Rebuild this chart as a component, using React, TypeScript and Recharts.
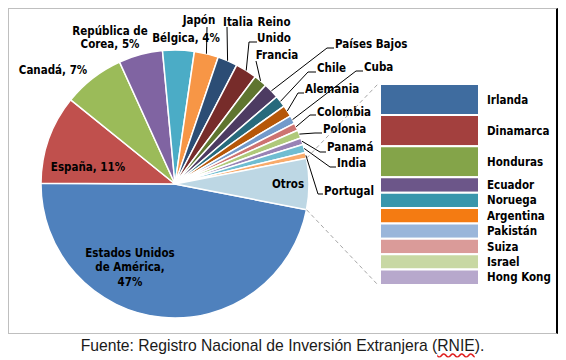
import { Bar, BarChart, Cell, Pie, PieChart, XAxis, YAxis } from 'recharts';

// share of foreign investment by country, %
const pieCountries = [
  'Estados Unidos de América',
  'España',
  'Canadá',
  'República de Corea',
  'Bélgica',
  'Japón',
  'Italia',
  'Reino Unido',
  'Francia',
  'Países Bajos',
  'Chile',
  'Alemania',
  'Cuba',
  'Colombia',
  'Polonia',
  'Panamá',
  'India',
  'Portugal',
];
const pieShares = [47.0, 10.7, 7.4, 5.3, 3.8, 2.9, 2.4, 2.6, 1.6, 1.9, 1.4, 1.4, 1.0, 0.9, 1.0, 0.8, 1.0, 0.7];
const pieColors = [
  '#4F81BD', '#C0504D', '#9BBB59', '#8064A2', '#4BACC6', '#F79646',
  '#2C4D75', '#772C2A', '#5F7530', '#4D3B62', '#276A7C', '#B65708',
  '#729ACA', '#CD7371', '#AFC97A', '#9983B5', '#6FBDD1', '#F9AB6B',
];

const otherLabel = 'Otros';
const otherColor = '#BDD7E4';
const otherCountries = ['Irlanda', 'Dinamarca', 'Honduras', 'Ecuador', 'Noruega', 'Argentina', 'Pakistán', 'Suiza', 'Israel', 'Hong Kong'];
const otherShares = [0.95, 0.95, 0.95, 0.47, 0.47, 0.47, 0.47, 0.47, 0.47, 0.47];
const otherColors = ['#3F6C9F', '#A3403E', '#84A449', '#6C5689', '#3996AC', '#F47B12', '#9AB6DA', '#DA9B99', '#C8D8A3', '#B7A8CC'];

const sourceText = 'Fuente: Registro Nacional de Inversión Extranjera (';
const sourceAbbr = 'RNIE';

const otherTotal = otherShares.reduce((a, b) => a + b, 0);
const grandTotal = pieShares.reduce((a, b) => a + b, 0) + otherTotal;

const pieData = [
  ...pieCountries.map((name, i) => ({ name, value: pieShares[i], color: pieColors[i] })),
  { name: otherLabel, value: otherTotal, color: otherColor },
];

const barRow: Record<string, number | string> = { name: otherLabel };
otherCountries.forEach((name, i) => {
  barRow[name] = otherShares[i];
});

// layout
const W = 549;
const H = 326;
const PIE_CX = 167;
const PIE_CY = 176;
const PIE_R = 134;
const BAR_LEFT = 372;
const BAR_TOP = 76;
const BAR_W = 99;
const BAR_H = 201;
const LABEL_FONT = "'DejaVu Sans Condensed', 'DejaVu Sans', sans-serif";
const LABEL_SIZE = 11.5;
// rotate so the "Otros" slice is centred on 3 o'clock
const START = -(otherTotal / grandTotal) * 180;

type Spot = {
  x: number;
  y: number;
  lines: string[];
  anchor?: 'start' | 'middle';
  gap?: number;
  elbow?: [number, number];
  stub?: [number, number];
};

const labelSpots: Record<string, Spot> = {
  'Estados Unidos de América': { x: 122, y: 259, lines: ['Estados Unidos', 'de América,', '{p}'], gap: 14.5 },
  'España': { x: 80, y: 159, lines: ['España, {p}'] },
  'Canadá': { x: 45, y: 62, lines: ['Canadá, {p}'] },
  'República de Corea': { x: 102, y: 29.5, lines: ['República de', 'Corea, {p}'], gap: 13 },
  'Bélgica': { x: 178, y: 30, lines: ['Bélgica, {p}'] },
  'Japón': { x: 191, y: 12, lines: ['Japón'], elbow: [199, 19] },
  'Italia': { x: 230, y: 14, lines: ['Italia'], elbow: [219, 19] },
  'Reino Unido': { x: 266, y: 22, lines: ['Reino', 'Unido'], gap: 16, elbow: [241, 34], stub: [249, 34] },
  'Francia': { x: 269, y: 47, lines: ['Francia'], elbow: [248, 53] },
  'Países Bajos': { x: 327, y: 36, lines: ['Países Bajos'], anchor: 'start', elbow: [319, 40], stub: [326, 40] },
  'Chile': { x: 309, y: 60, lines: ['Chile'], anchor: 'start', elbow: [300, 64], stub: [308, 64] },
  'Cuba': { x: 356, y: 59, lines: ['Cuba'], anchor: 'start', elbow: [348, 63], stub: [355, 63] },
  'Alemania': { x: 297, y: 81, lines: ['Alemania'], anchor: 'start', elbow: [290, 85], stub: [296, 85] },
  'Colombia': { x: 309, y: 104, lines: ['Colombia'], anchor: 'start', elbow: [302, 107], stub: [308, 107] },
  'Polonia': { x: 315, y: 121, lines: ['Polonia'], anchor: 'start', elbow: [307, 125], stub: [314, 125] },
  'Panamá': { x: 319, y: 139, lines: ['Panamá'], anchor: 'start', elbow: [312, 144], stub: [318, 144] },
  'India': { x: 329, y: 155, lines: ['India'], anchor: 'start', elbow: [322, 159], stub: [328, 159] },
  'Portugal': { x: 316, y: 183, lines: ['Portugal'], anchor: 'start', elbow: [310, 186], stub: [315, 186] },
  'Otros': { x: 280, y: 176, lines: ['Otros'] },
};

const RAD = Math.PI / 180;

function polar(cx: number, cy: number, r: number, angle: number): [number, number] {
  return [cx + r * Math.cos(-angle * RAD), cy + r * Math.sin(-angle * RAD)];
}

function renderSliceLabel(props: any) {
  const { cx, cy, midAngle, outerRadius, name, percent } = props;
  const spot = labelSpots[name];
  if (!spot) return null;
  const pct = `${Math.round(percent * 100)}%`;
  const lines = spot.lines.map((l) => l.replace('{p}', pct));
  const gap = spot.gap ?? 13;
  const top = spot.y - ((lines.length - 1) * gap) / 2;
  const parts: JSX.Element[] = [];

  if (spot.elbow) {
    const [ex, ey] = polar(cx, cy, outerRadius, midAngle);
    const pts = [[ex, ey], spot.elbow];
    if (spot.stub) pts.push(spot.stub);
    parts.push(
      <polyline
        key="leader"
        points={pts.map((p) => p.join(',')).join(' ')}
        fill="none"
        stroke="#000"
        strokeWidth={1}
      />,
    );
  }

  if (name === otherLabel) {
    const half = percent * 180;
    const up = polar(cx, cy, outerRadius, midAngle + half);
    const down = polar(cx, cy, outerRadius, midAngle - half);
    parts.push(
      <line key="c1" x1={up[0]} y1={up[1]} x2={BAR_LEFT - 2} y2={BAR_TOP} stroke="#A6A6A6" strokeDasharray="4 3" />,
      <line key="c2" x1={down[0]} y1={down[1]} x2={BAR_LEFT - 2} y2={BAR_TOP + BAR_H} stroke="#A6A6A6" strokeDasharray="4 3" />,
    );
  }

  parts.push(
    <text
      key="txt"
      x={spot.x}
      y={top}
      textAnchor={spot.anchor ?? 'middle'}
      dominantBaseline="central"
      fontFamily={LABEL_FONT}
      fontSize={LABEL_SIZE}
      fontWeight="bold"
      fill="#000"
    >
      {lines.map((l, i) => (
        <tspan key={i} x={spot.x} dy={i === 0 ? 0 : gap}>
          {l}
        </tspan>
      ))}
    </text>,
  );

  return <g>{parts}</g>;
}

function renderBarLabel(props: any, name: string) {
  const { x, y, width, height } = props;
  return (
    <text
      x={x + width + 8}
      y={y + height / 2}
      dominantBaseline="central"
      fontFamily={LABEL_FONT}
      fontSize={LABEL_SIZE}
      fontWeight="bold"
      fill="#000"
    >
      {name}
    </text>
  );
}

export default function App() {
  return (
    <div style={{ position: 'relative', width: 558, height: 352 }}>
      <div
        style={{
          position: 'absolute',
          left: 0,
          top: 0,
          width: W + 1,
          height: H,
          boxSizing: 'border-box',
          borderTop: '1px solid #BFBFBF',
          borderLeft: '1px solid #BFBFBF',
          borderBottom: '1px solid #BFBFBF',
          borderRight: '2px solid #000',
          background: '#fff',
        }}
      />
      <div style={{ position: 'absolute', left: 0, top: 0 }}>
        <PieChart width={W} height={H} margin={{ top: 0, right: 0, bottom: 0, left: 0 }}>
          <Pie
            data={pieData}
            dataKey="value"
            nameKey="name"
            cx={PIE_CX}
            cy={PIE_CY}
            outerRadius={PIE_R}
            startAngle={START}
            endAngle={START - 360}
            stroke="#fff"
            strokeWidth={1.5}
            label={renderSliceLabel}
            labelLine={false}
            isAnimationActive={false}
          >
            {pieData.map((d) => (
              <Cell key={d.name} fill={d.color} />
            ))}
          </Pie>
        </PieChart>
      </div>
      <div style={{ position: 'absolute', left: BAR_LEFT, top: BAR_TOP }}>
        <BarChart
          width={BAR_W + 80}
          height={BAR_H}
          data={[barRow]}
          margin={{ top: 0, right: 80, bottom: 0, left: 0 }}
          barCategoryGap={0}
        >
          <XAxis dataKey="name" hide />
          <YAxis hide reversed domain={[0, otherTotal]} />
          {otherCountries.map((name, i) => (
            <Bar
              key={name}
              dataKey={name}
              stackId="otros"
              fill={otherColors[i]}
              stroke="#fff"
              strokeWidth={2}
              isAnimationActive={false}
              label={(p: any) => renderBarLabel(p, name)}
            />
          ))}
        </BarChart>
      </div>
      <div
        style={{
          position: 'absolute',
          left: 0,
          top: H + 3,
          width: W,
          textAlign: 'center',
          fontFamily: "'Liberation Sans', Arial, sans-serif",
          fontSize: 15.7,
          color: '#1a1a1a',
          whiteSpace: 'nowrap',
        }}
      >
        {sourceText}
        <span style={{ textDecoration: 'underline wavy #E02020' }}>{sourceAbbr}</span>
        ).
      </div>
    </div>
  );
}
